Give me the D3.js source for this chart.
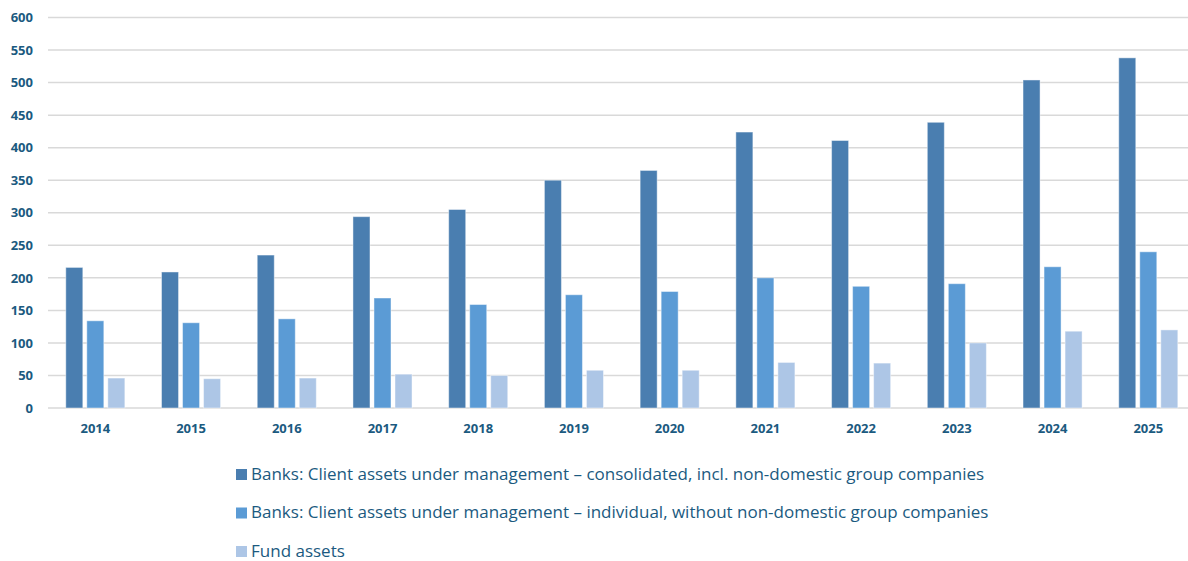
<!DOCTYPE html>
<html>
<head>
<meta charset="utf-8">
<script src="https://cdn.jsdelivr.net/npm/d3@7.9.0/dist/d3.min.js"></script>
<style>
  html, body { margin: 0; padding: 0; background: #fff; }
  svg { display: block; }
</style>
</head>
<body>
<div id="chart"></div>
<script>
const years = ['2014', '2015', '2016', '2017', '2018', '2019', '2020', '2021', '2022', '2023', '2024', '2025'];
const consolidated = [216, 209, 235, 294, 305, 350, 365, 424, 411, 439, 504, 538];
const individual = [134, 131, 137, 169, 159, 174, 179, 200, 187, 191, 217, 240];
const fundAssets = [46, 45, 46, 52, 50, 58, 58, 70, 69, 100, 118, 120];
const yTicks = [0, 50, 100, 150, 200, 250, 300, 350, 400, 450, 500, 550, 600];

const seriesNames = [
  'Banks: Client assets under management \u2013 consolidated, incl. non-domestic group companies',
  'Banks: Client assets under management \u2013 individual, without non-domestic group companies',
  'Fund assets'
];
const seriesKeys = ['consolidated', 'individual', 'fund'];
const colors = ['#4a7eb0', '#5b9bd5', '#adc6e6'];
const textColor = '#1b5a80';

const rows = years.map((y, i) => ({
  year: y,
  consolidated: consolidated[i],
  individual: individual[i],
  fund: fundAssets[i],
}));

const width = 1188;
const height = 561;

const svg = d3.select('#chart')
  .append('svg')
  .attr('width', width)
  .attr('height', height);

const yScale = d3.scaleLinear()
  .domain([0, 600])
  .range([408, 17.5]);

const x0 = d3.scaleBand()
  .domain(years)
  .range([47.6, 1196])
  .paddingInner(0.383)
  .paddingOuter(0.19);

const x1 = d3.scaleBand()
  .domain(seriesKeys)
  .range([0, x0.bandwidth()])
  .paddingInner(0.19);

// grid
svg.append('g')
  .selectAll('line')
  .data(yTicks)
  .join('line')
  .attr('x1', 48)
  .attr('x2', width)
  .attr('y1', (d) => yScale(d))
  .attr('y2', (d) => yScale(d))
  .attr('stroke', '#d9d9d9')
  .attr('stroke-width', 1.5);

// y axis labels
const yAxis = d3.axisLeft(yScale).tickValues(yTicks).tickSize(0).tickPadding(0);
const gy = svg.append('g')
  .attr('transform', 'translate(33,0)')
  .call(yAxis);
gy.select('.domain').remove();
gy.selectAll('text')
  .attr('fill', textColor)
  .attr('font-family', 'Open Sans, Noto Sans, sans-serif')
  .attr('font-size', 13)
  .attr('font-weight', 700);

// bars
const groups = svg.append('g')
  .selectAll('g')
  .data(rows)
  .join('g')
  .attr('transform', (d) => `translate(${x0(d.year)},0)`);

groups.selectAll('rect')
  .data((d) => seriesKeys.map((k, i) => ({ key: k, value: d[k], i })))
  .join('rect')
  .attr('x', (d) => x1(d.key))
  .attr('width', x1.bandwidth())
  .attr('y', (d) => yScale(d.value))
  .attr('height', (d) => yScale(0) - yScale(d.value))
  .attr('fill', (d) => colors[d.i])
  .attr('stroke', 'rgba(255,255,255,0.45)')
  .attr('stroke-width', 1);

// x axis labels
const xAxis = d3.axisBottom(x0).tickSize(0).tickPadding(0);
const gx = svg.append('g')
  .attr('transform', 'translate(0,424)')
  .call(xAxis);
gx.select('.domain').remove();
gx.selectAll('text')
  .attr('fill', textColor)
  .attr('font-family', 'Open Sans, Noto Sans, sans-serif')
  .attr('font-size', 13)
  .attr('font-weight', 700);

// legend
const legend = svg.append('g')
  .selectAll('g')
  .data(seriesNames)
  .join('g')
  .attr('transform', (d, i) => `translate(236,${474 + i * 38.5})`);

legend.append('rect')
  .attr('x', 0)
  .attr('y', -5)
  .attr('width', 11)
  .attr('height', 11)
  .attr('fill', (d, i) => colors[i]);

legend.append('text')
  .attr('x', 15)
  .attr('y', 0)
  .attr('dy', '0.35em')
  .attr('fill', textColor)
  .attr('font-family', 'Open Sans, Noto Sans, sans-serif')
  .attr('font-size', 17)
  .text((d) => d);
</script>
</body>
</html>
